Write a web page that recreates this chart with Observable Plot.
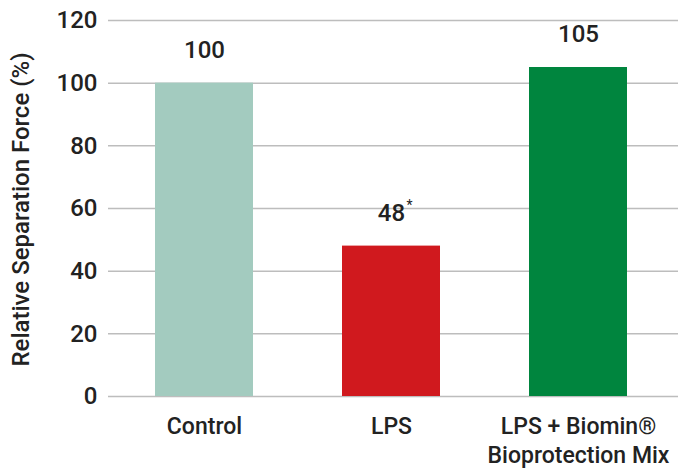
<!DOCTYPE html>
<html>
<head>
<meta charset="utf-8">
<script src="https://cdn.jsdelivr.net/npm/d3@7"></script>
<script src="https://cdn.jsdelivr.net/npm/@observablehq/plot@0.6"></script>
<style>
  body { margin: 0; background: #fff; }
  #chart svg { display: block; }
</style>
</head>
<body>
<div id="chart"></div>
<script>
// Relative separation force by treatment
const categories = ["Control", "LPS", "LPS + Biomin®\nBioprotection Mix"];
const values = [100, 48, 105];
const notes = ["", "*", ""];
const colors = ["#a3cbbf", "#d0191e", "#00853e"];
const yTicks = [0, 20, 40, 60, 80, 100, 120];
const yTitle = "Relative Separation Force (%)";

const data = categories.map((cat, i) => ({cat, value: values[i], note: notes[i]}));

const chart = Plot.plot({
  width: 678,
  height: 472,
  marginLeft: 108,
  marginRight: 0,
  marginTop: 20,
  marginBottom: 76,
  style: {fontFamily: "Roboto, 'Open Sans', sans-serif", color: "#222", background: "#fff"},
  x: {domain: categories, paddingInner: 0.476, paddingOuter: 0.262, align: 0.48, label: null},
  y: {domain: [0, 120], ticks: yTicks, label: null},
  color: {domain: categories, range: colors},
  marks: [
    Plot.gridY(yTicks, {stroke: "#bdbdbd", strokeOpacity: 1, strokeWidth: 1.5}),
    Plot.barY(data, {x: "cat", y: "value", fill: "cat"}),
    Plot.axisY(yTicks, {tickSize: 0, tickPadding: 11, fontSize: 24, fontWeight: 500, label: null}),
    Plot.axisX({tickSize: 0, tickPadding: 17, fontSize: 23, fontWeight: 500, lineHeight: 1.27, label: null}),
    Plot.text(data, {x: "cat", y: "value", text: d => String(d.value), dy: -33, fontSize: 24, fontWeight: 500, fill: "#222"}),
    Plot.text(data.filter(d => d.note), {x: "cat", y: "value", text: "note", dx: 18, dy: -41, fontSize: 14, fill: "#222"}),
    Plot.text([yTitle], {frameAnchor: "left", textAnchor: "middle", dx: -87, dy: 1, rotate: -90, fontSize: 24, fontWeight: 500, fill: "#222"})
  ]
});

document.getElementById("chart").append(chart);
</script>
</body>
</html>
